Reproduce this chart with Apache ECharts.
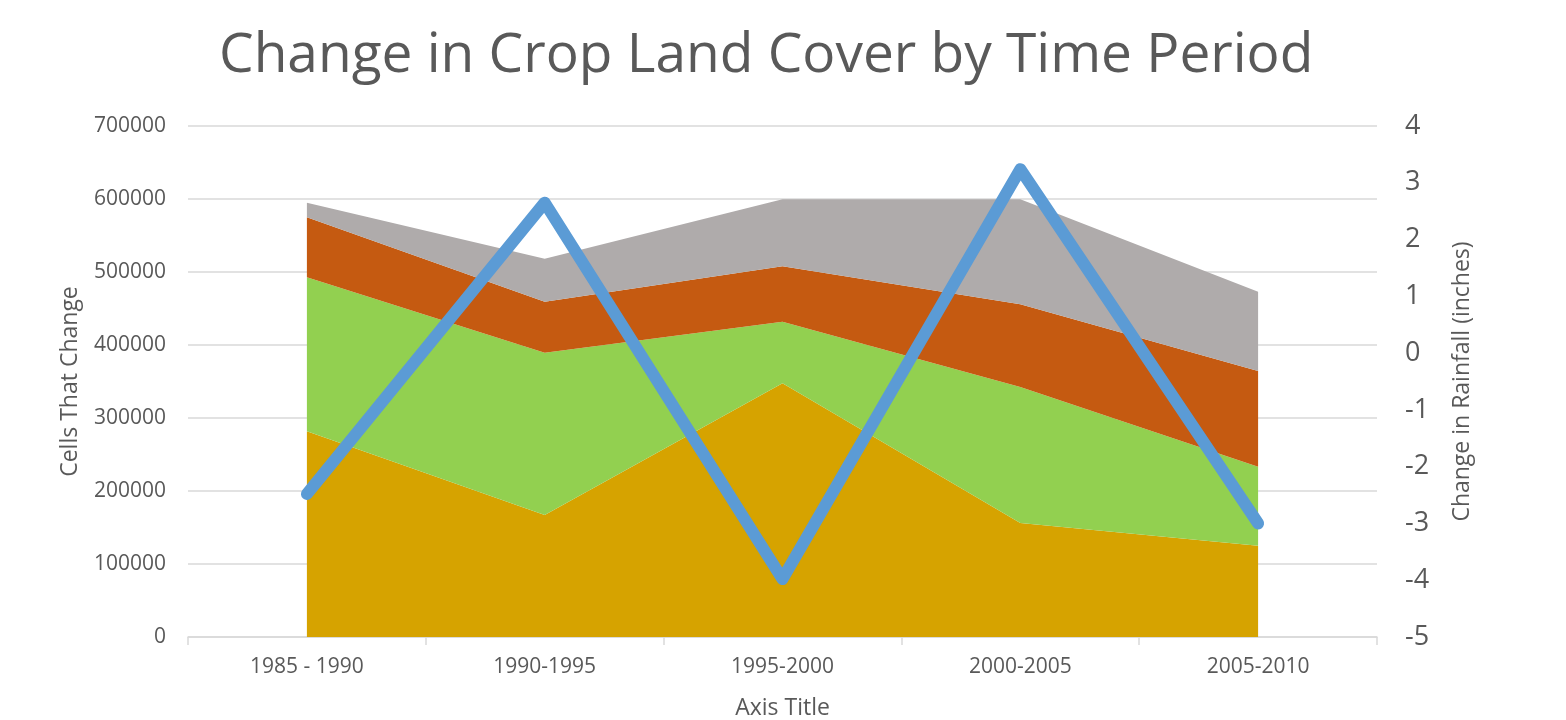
<!DOCTYPE html>
<html><head><meta charset="utf-8">
<script src="https://cdn.jsdelivr.net/npm/echarts@6/dist/echarts.min.js"></script>
<style>html,body{margin:0;padding:0;background:#fff}#c{width:1566px;height:720px}</style>
</head><body><div id="c"></div>
<script>
const categories = ['1985 - 1990', '1990-1995', '1995-2000', '2000-2005', '2005-2010'];
const goldValues   = [282000, 167000, 347500, 156000, 125000];
const greenValues  = [210700, 222500, 84500, 186500, 108300];
const orangeValues = [82300, 69800, 75800, 113300, 131100];
const grayValues   = [20000, 58900, 91800, 143800, 108600];
const rainfallValues = [-2.48, 2.65, -3.98, 3.24, -3.0];

const FONT = '"Open Sans", Lato, sans-serif';
const TXT = '#595959';
const chart = echarts.init(document.getElementById('c'));
function area(name, data, color) {
  return { name, type: 'line', stack: 'crop', data, symbol: 'none',
    lineStyle: { width: 0 }, areaStyle: { color, opacity: 1 }, itemStyle: { color } };
}
chart.setOption({
  animation: false,
  textStyle: { fontFamily: FONT },
  title: { text: 'Change in Crop Land Cover by Time Period', left: 214, top: 24,
    textStyle: { fontFamily: FONT, fontSize: 55, fontWeight: 'normal', color: TXT } },
  grid: { left: 188, right: 189, top: 126, bottom: 83, containLabel: false, outerBoundsMode: 'none' },
  xAxis: { type: 'category', data: categories, boundaryGap: true,
    name: 'Axis Title', nameLocation: 'middle', nameGap: 60,
    nameTextStyle: { fontFamily: FONT, fontSize: 23, color: TXT },
    axisLine: { lineStyle: { color: '#d9d9d9', width: 1.5 } },
    axisTick: { show: true, length: 8, interval: 0, lineStyle: { color: '#d9d9d9', width: 1.5 } },
    axisLabel: { fontFamily: FONT, fontSize: 21, color: TXT, margin: 20 } },
  yAxis: [
    { type: 'value', min: 0, max: 700000, interval: 100000,
      name: 'Cells That Change', nameLocation: 'middle', nameGap: 106, nameRotate: 90,
      nameTextStyle: { fontFamily: FONT, fontSize: 23, color: TXT },
      axisLine: { show: false }, axisTick: { show: false },
      splitLine: { lineStyle: { color: '#d9d9d9', width: 1.5 } },
      axisLabel: { fontFamily: FONT, fontSize: 21, color: TXT, margin: 22, formatter: v => String(v) } },
    { type: 'value', min: -5, max: 4, interval: 1, position: 'right',
      name: 'Change in Rainfall (inches)', nameLocation: 'middle', nameGap: 74, nameRotate: 90,
      nameTextStyle: { fontFamily: FONT, fontSize: 23, color: TXT },
      axisLine: { show: false }, axisTick: { show: false }, splitLine: { show: false },
      axisLabel: { fontFamily: FONT, fontSize: 27, color: TXT, margin: 28 } }
  ],
  series: [
    area('Gold', goldValues, '#D6A300'),
    area('Green', greenValues, '#92D050'),
    area('Orange', orangeValues, '#C55A11'),
    area('Gray', grayValues, '#AFABAB'),
    { name: 'Rainfall', type: 'line', yAxisIndex: 1, data: rainfallValues, symbol: 'none', z: 10,
      lineStyle: { width: 12, color: '#5B9BD5', cap: 'round', join: 'round' },
      itemStyle: { color: '#5B9BD5' } }
  ]
});
</script></body></html>
